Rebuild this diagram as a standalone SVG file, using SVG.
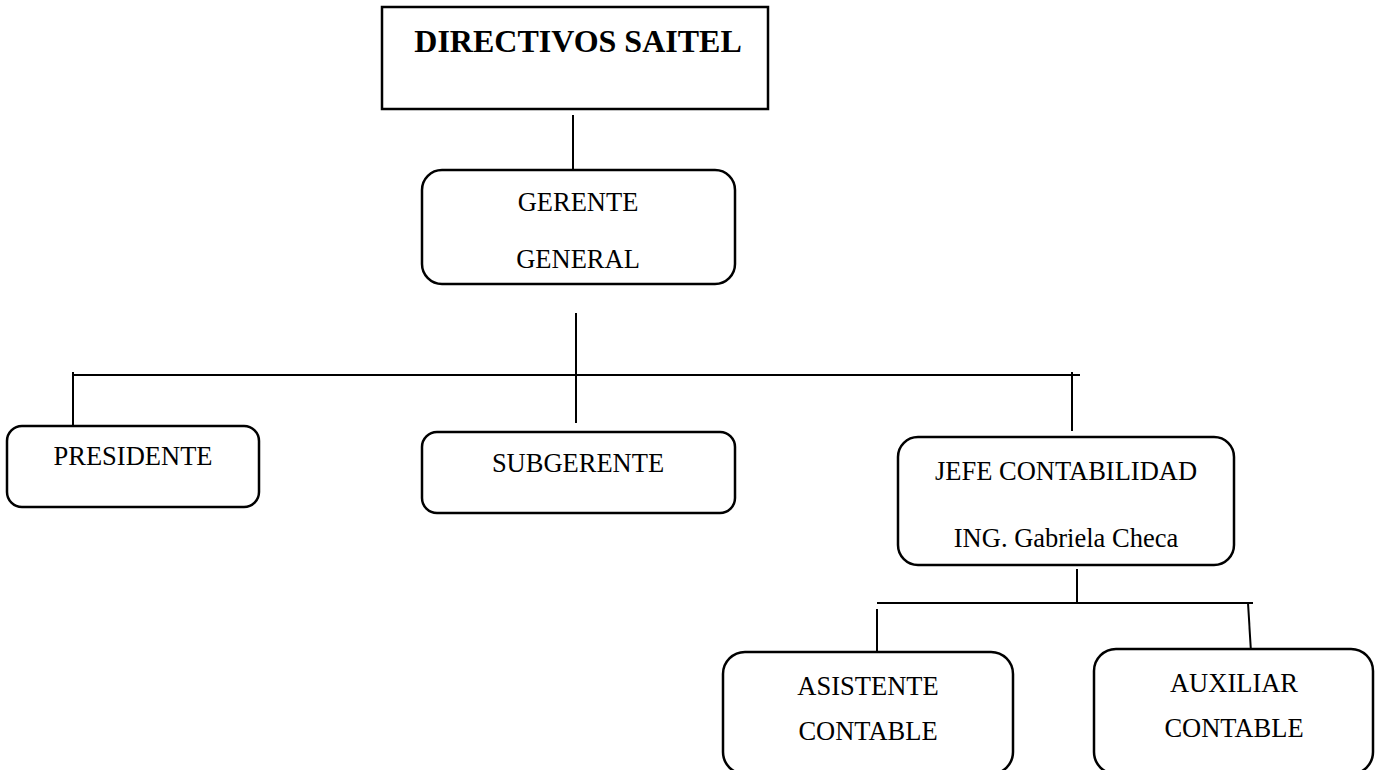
<svg xmlns="http://www.w3.org/2000/svg" width="1380" height="770" viewBox="0 0 1380 770">
<style>
.box{fill:#fff;stroke:#000;stroke-width:2.5}
.t{font-family:"Liberation Serif","Times New Roman",serif;font-size:26.5px;fill:#000;text-anchor:middle}
.b{font-weight:bold;font-size:32px}
.c{stroke:#000;stroke-width:2;fill:none}
</style>
<rect width="1380" height="770" fill="#fff"/>
<g id="connectors">
<line class="c" x1="573" y1="115" x2="573" y2="171"/>
<line class="c" x1="576" y1="313" x2="576" y2="423"/>
<line class="c" x1="74" y1="375" x2="1080" y2="375"/>
<line class="c" x1="73" y1="372" x2="73" y2="431"/>
<line class="c" x1="1072" y1="372" x2="1072" y2="431"/>
<line class="c" x1="1077" y1="569" x2="1077" y2="604"/>
<line class="c" x1="877" y1="603" x2="1253" y2="603"/>
<line class="c" x1="877" y1="609" x2="877" y2="652"/>
<line class="c" x1="1248" y1="603" x2="1251" y2="652"/>
</g>
<g id="directivos">
<rect class="box" x="382" y="7" width="386" height="102"/>
<text class="t b" x="578" y="52">DIRECTIVOS SAITEL</text>
</g>
<g id="gerente">
<rect class="box" x="422" y="170" width="313" height="114" rx="20"/>
<text class="t" x="578" y="211">GERENTE</text>
<text class="t" x="578" y="268">GENERAL</text>
</g>
<g id="presidente">
<rect class="box" x="7" y="426" width="252" height="81" rx="15"/>
<text class="t" x="133" y="465">PRESIDENTE</text>
</g>
<g id="subgerente">
<rect class="box" x="422" y="432" width="313" height="81" rx="15"/>
<text class="t" x="578" y="472">SUBGERENTE</text>
</g>
<g id="jefe">
<rect class="box" x="898" y="437" width="336" height="128" rx="20"/>
<text class="t" x="1066" y="480">JEFE CONTABILIDAD</text>
<text class="t" x="1066" y="547">ING. Gabriela Checa</text>
</g>
<g id="asistente">
<rect class="box" x="723" y="652" width="290" height="122" rx="22"/>
<text class="t" x="868" y="695">ASISTENTE</text>
<text class="t" x="868" y="740">CONTABLE</text>
</g>
<g id="auxiliar">
<rect class="box" x="1094" y="649" width="279" height="125" rx="22"/>
<text class="t" x="1234" y="692">AUXILIAR</text>
<text class="t" x="1234" y="737">CONTABLE</text>
</g>
</svg>
